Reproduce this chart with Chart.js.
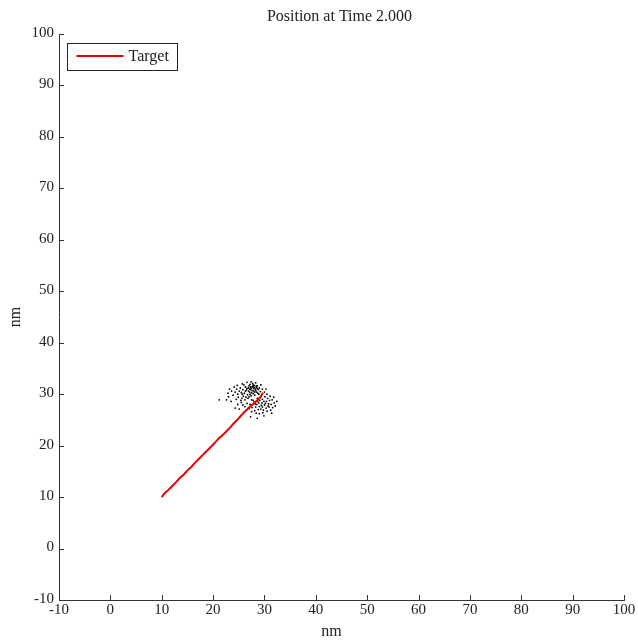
<!DOCTYPE html>
<html>
<head>
<meta charset="utf-8">
<script src="https://cdn.jsdelivr.net/npm/chart.js@4"></script>
<style>
  html, body { margin: 0; padding: 0; background: #fff; }
  #wrap { width: 638px; height: 641px; }
</style>
</head>
<body>
<div id="wrap"><canvas id="c" width="638" height="641"></canvas></div>
<script>
const titleText = 'Position at Time 2.000';
const axisTitleX = 'nm';
const axisTitleY = 'nm';
const legendLabel = 'Target';
const xTicks = [-10, 0, 10, 20, 30, 40, 50, 60, 70, 80, 90, 100];
const yTicks = [-10, 0, 10, 20, 30, 40, 50, 60, 70, 80, 90, 100];

// target trajectory
const targetX = [10.0, 10.6, 11.3, 12.0, 12.8, 13.5, 14.3, 15.0, 15.8, 16.5, 17.3, 18.0, 18.8, 19.5,
                 20.3, 21.0, 21.8, 22.5, 23.3, 24.0, 24.8, 25.5, 26.3, 27.0, 27.8, 28.5, 29.2, 29.7];
const targetY = [10.0, 10.8, 11.4, 12.1, 12.9, 13.7, 14.4, 15.2, 15.9, 16.7, 17.5, 18.2, 19.0, 19.7,
                 20.5, 21.3, 22.0, 22.7, 23.5, 24.3, 25.1, 25.9, 26.7, 27.4, 28.1, 28.7, 29.4, 30.3];

// particle cloud
const particleX = [
  26.1, 26.5, 26.9, 27.3, 27.6, 27.9, 28.2, 28.5, 28.8, 27.1, 26.7, 27.4, 27.8, 28.1, 28.4, 27.0, 26.3, 25.8, 25.5, 25.9,
  26.4, 27.2, 27.7, 28.0, 28.6, 29.0, 29.2, 28.9, 26.0, 25.3, 25.1, 24.8, 25.6, 26.2, 26.8, 27.5, 24.6, 24.3, 24.9, 25.4,
  23.9, 23.6, 24.1, 24.7, 25.7, 26.6, 27.4, 28.3, 29.3, 29.6, 26.9, 27.5, 28.0, 27.2, 26.6, 27.8, 28.7, 26.3, 25.7, 27.0,
  27.4, 27.9, 28.3, 27.6, 28.1, 27.3, 28.6, 27.8, 28.4, 27.1,
  28.0, 28.5, 29.0, 29.5, 30.0, 30.4, 30.8, 29.3, 29.8, 30.3, 30.9, 31.3, 31.0, 30.6, 30.1, 29.6, 29.1, 28.6, 28.3, 28.8,
  28.1, 27.6, 27.2, 27.0, 27.5, 28.4, 29.0, 29.7, 30.5, 31.2, 31.6, 31.9, 31.5, 31.1, 30.5, 30.0, 29.9, 29.4, 30.2, 28.9,
  29.2, 28.7, 30.7, 29.6, 28.2, 27.8, 26.6, 26.2, 26.5, 25.8, 25.5, 24.8, 24.3, 23.5, 22.6, 21.2, 22.9, 23.2, 31.8, 32.1,
  27.3, 29.9, 26.0, 31.4, 28.6, 25.1, 32.4, 23.0, 24.5, 30.3
];
const particleY = [
  30.2, 30.8, 31.2, 30.9, 31.4, 30.6, 31.0, 30.4, 30.9, 30.4, 29.9, 29.7, 30.1, 29.8, 31.3, 31.6, 31.4, 30.9, 30.3, 29.6,
  29.4, 31.9, 32.1, 31.7, 31.6, 31.2, 30.5, 30.0, 31.8, 31.2, 30.6, 30.0, 29.2, 28.9, 29.2, 28.9, 31.0, 30.4, 29.4, 28.8,
  29.8, 30.6, 31.4, 31.7, 32.0, 32.3, 32.4, 32.2, 31.8, 31.0, 30.6, 30.3, 31.3, 30.0, 31.1, 31.8, 30.2, 30.6, 30.0, 29.5,
  31.1, 31.1, 30.7, 30.7, 30.4, 31.4, 31.1, 31.5, 31.6, 31.0,
  28.5, 28.0, 27.6, 28.3, 27.9, 28.6, 28.1, 27.1, 26.9, 27.3, 27.5, 28.0, 28.8, 29.2, 29.5, 29.0, 28.8, 29.2, 27.5, 27.0,
  26.8, 27.4, 28.0, 27.2, 26.6, 26.3, 26.2, 26.4, 26.7, 26.9, 27.4, 28.3, 28.9, 29.6, 30.0, 30.4, 28.6, 27.8, 28.2, 28.3,
  29.4, 28.6, 27.7, 27.5, 28.1, 28.8, 28.2, 27.6, 26.9, 27.9, 28.4, 28.0, 27.3, 28.6, 28.9, 28.9, 30.2, 31.0, 29.4, 27.7,
  25.6, 25.8, 26.5, 26.3, 25.3, 27.1, 28.6, 29.5, 29.0, 31.0
];

const TICK_FONT = '15px "Liberation Serif", "Times New Roman", serif';
const TEXT_FONT = '16px "Liberation Serif", "Times New Roman", serif';
const INK = '#222';

// Axes decorations: inward ticks, tick labels, titles and legend box
const decorations = {
  id: 'decorations',
  afterDraw(chart) {
    const ctx = chart.ctx;
    const xs = chart.scales.x, ys = chart.scales.y;
    const a = chart.chartArea;
    ctx.save();
    ctx.strokeStyle = '#333';
    ctx.lineWidth = 1;
    ctx.beginPath();
    xTicks.forEach(v => {
      const px = Math.round(xs.getPixelForValue(v)) + 0.5;
      ctx.moveTo(px, a.bottom);
      ctx.lineTo(px, a.bottom - 5);
    });
    yTicks.forEach(v => {
      const py = Math.round(ys.getPixelForValue(v)) + 0.5;
      ctx.moveTo(a.left, py);
      ctx.lineTo(a.left + 5, py);
    });
    ctx.stroke();

    ctx.fillStyle = INK;
    ctx.font = TICK_FONT;
    ctx.textAlign = 'center';
    ctx.textBaseline = 'top';
    xTicks.forEach(v => {
      ctx.fillText(String(v), xs.getPixelForValue(v), a.bottom + 3);
    });
    ctx.textAlign = 'right';
    ctx.textBaseline = 'middle';
    yTicks.forEach(v => {
      ctx.fillText(String(v), a.left - 5, ys.getPixelForValue(v) - 1);
    });

    // titles
    ctx.font = TEXT_FONT;
    ctx.textAlign = 'center';
    ctx.textBaseline = 'middle';
    ctx.fillText(titleText, (a.left + a.right) / 2 - 2, 17);
    ctx.fillText(axisTitleX, (a.left + a.right) / 2 - 10, 632);
    ctx.save();
    ctx.translate(16, (a.top + a.bottom) / 2);
    ctx.rotate(-Math.PI / 2);
    ctx.fillText(axisTitleY, 0, 0);
    ctx.restore();

    // legend
    const lx = a.left + 8.5, ly = a.top + 9.5, lw = 110, lh = 27;
    ctx.fillStyle = '#fff';
    ctx.fillRect(lx, ly, lw, lh);
    ctx.strokeStyle = INK;
    ctx.strokeRect(lx, ly, lw, lh);
    ctx.strokeStyle = 'rgb(235,0,0)';
    ctx.lineWidth = 2;
    ctx.beginPath();
    ctx.moveTo(lx + 9, ly + 12.5);
    ctx.lineTo(lx + 56, ly + 12.5);
    ctx.stroke();
    ctx.fillStyle = INK;
    ctx.textAlign = 'left';
    ctx.fillText(legendLabel, lx + 61, ly + 13.5);
    ctx.restore();
  }
};

new Chart(document.getElementById('c'), {
  type: 'scatter',
  data: {
    datasets: [
      {
        label: legendLabel,
        data: targetX.map((x, i) => ({ x, y: targetY[i] })),
        showLine: true,
        borderColor: 'rgb(235,0,0)',
        borderWidth: 2,
        pointRadius: 0,
        tension: 0,
        order: 0
      },
      {
        label: 'particles',
        data: particleX.map((x, i) => ({ x, y: particleY[i] })),
        backgroundColor: '#000',
        borderWidth: 0,
        pointRadius: 0.9,
        order: 1
      }
    ]
  },
  options: {
    responsive: false,
    animation: false,
    devicePixelRatio: 1,
    layout: { padding: { top: 34, right: 14, left: 0, bottom: 0 } },
    plugins: { legend: { display: false }, tooltip: { enabled: false }, title: { display: false } },
    scales: {
      x: {
        type: 'linear', min: -10, max: 100,
        grid: { display: false },
        border: { display: true, color: '#333', width: 1 },
        ticks: { display: false },
        afterFit(s) { s.height = 41; }
      },
      y: {
        type: 'linear', min: -10, max: 100,
        grid: { display: false },
        border: { display: true, color: '#333', width: 1 },
        ticks: { display: false },
        afterFit(s) { s.width = 59; }
      }
    }
  },
  plugins: [decorations]
});
</script>
</body>
</html>
